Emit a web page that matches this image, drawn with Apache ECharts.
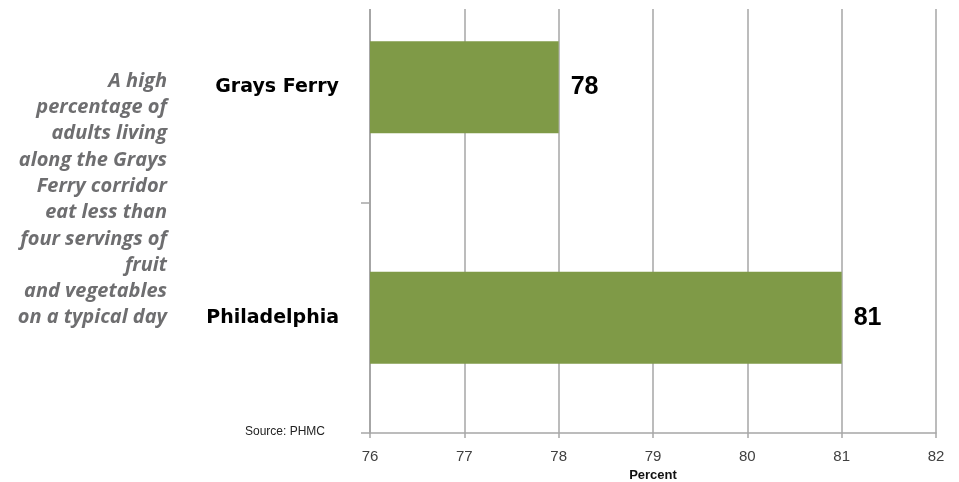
<!DOCTYPE html>
<html>
<head>
<meta charset="utf-8">
<script src="https://cdn.jsdelivr.net/npm/echarts@6/dist/echarts.min.js"></script>
<style>
  html, body { margin: 0; padding: 0; background: #fff; overflow: hidden; }
  #frame { width: 959px; height: 482px; overflow: hidden; position: relative; }
  /* the drawing surface is taller than the frame; its top strip sits above the visible area */
  #chart { width: 959px; height: 519px; position: absolute; left: 0; top: -37px; }
</style>
</head>
<body>
<div id="frame"><div id="chart"></div></div>
<script>
// Share of adults eating fewer than four servings of fruit and vegetables a day
const categories = ['Grays Ferry', 'Philadelphia'];
const percentValues = [78, 81];
const axisMin = 76;
const axisMax = 82;
const noteLines = [
  'A high',
  'percentage of',
  'adults living',
  'along the Grays',
  'Ferry corridor',
  'eat less than',
  'four servings of',
  'fruit',
  'and vegetables',
  'on a typical day'
];
const sourceText = 'Source: PHMC';
const axisTitle = 'Percent';

const SHIFT = 37; // vertical offset of the drawing surface inside the frame

const chart = echarts.init(document.getElementById('chart'), null, { renderer: 'canvas' });

const gridColor = '#a6a6a6';

const noteGraphics = noteLines.map((line, i) => ({
  type: 'text',
  right: 959 - 167,
  top: SHIFT + 71 + i * 26.3,
  style: {
    text: line,
    font: 'italic bold 20px "Open Sans"',
    fill: '#6e6e70',
    textAlign: 'right'
  }
}));

chart.setOption({
  animation: false,
  backgroundColor: '#ffffff',
  grid: { left: 370, right: 23, top: 9, bottom: 49, outerBoundsMode: 'none', containLabel: false },
  xAxis: {
    type: 'value',
    min: axisMin,
    max: axisMax,
    interval: 1,
    name: axisTitle,
    nameLocation: 'middle',
    nameGap: 36,
    nameTextStyle: { fontFamily: 'Liberation Sans', fontWeight: 'bold', fontSize: 13, color: '#111' },
    axisLine: { show: true, lineStyle: { color: gridColor, width: 1.5 } },
    axisTick: { show: true, length: 5, lineStyle: { color: gridColor, width: 1.5 } },
    axisLabel: { fontFamily: 'Liberation Sans', fontSize: 15, color: '#404040', margin: 16 },
    splitLine: { show: true, lineStyle: { color: gridColor, width: 1.5 } }
  },
  yAxis: {
    type: 'category',
    data: categories,
    inverse: true,
    axisLine: { show: true, lineStyle: { color: gridColor, width: 2 } },
    axisTick: { show: true, length: 9, lineStyle: { color: gridColor, width: 1.5 } },
    axisLabel: { fontFamily: 'DejaVu Sans', fontWeight: 'bold', fontSize: 19, color: '#000', margin: 31 },
    splitLine: { show: false }
  },
  series: [{
    type: 'bar',
    data: percentValues,
    barWidth: 92,
    itemStyle: { color: '#7f9a47' },
    label: {
      show: true,
      position: 'right',
      distance: 12,
      fontFamily: 'Liberation Sans',
      fontWeight: 'bold',
      fontSize: 25,
      color: '#000',
      formatter: p => String(p.value)
    }
  }],
  graphic: [
    {
      type: 'rect',
      left: 350,
      top: 0,
      shape: { width: 600, height: SHIFT + 9 },
      style: { fill: '#ffffff' },
      z: 100
    },
    ...noteGraphics,
    {
      type: 'text',
      right: 959 - 325,
      top: SHIFT + 426,
      style: {
        text: sourceText,
        font: '12px Liberation Sans',
        fill: '#222',
        textAlign: 'right'
      }
    }
  ]
});
</script>
</body>
</html>
